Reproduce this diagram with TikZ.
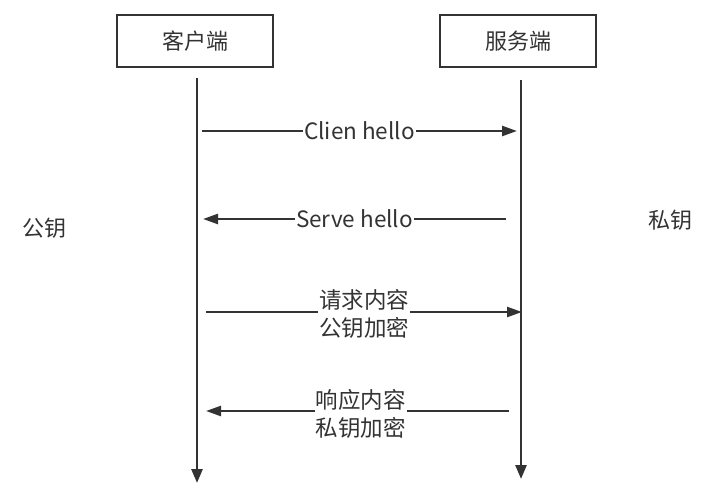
\documentclass[tikz,border=0pt]{standalone}
\usepackage{fontspec}
\setmainfont{Noto Sans CJK SC}
\usetikzlibrary{arrows.meta}
\definecolor{ink}{HTML}{333333}
\tikzset{
  party/.style={draw=ink, line width=2.2pt, minimum width=156pt, minimum height=52pt,
    inner sep=0pt, font=\fontsize{22}{26}\selectfont, text=ink},
  lifeline/.style={draw=ink, line width=2.6pt, -{Triangle[length=14pt,width=11pt]}},
  msg/.style={draw=ink, line width=2.4pt, -{Triangle[length=15pt,width=10pt]}},
  lbl/.style={fill=white, inner sep=1pt, align=center, text=ink,
    font=\fontsize{22.5}{28}\selectfont},
  side/.style={text=ink, font=\fontsize{22}{26}\selectfont}
}
\begin{document}
\begin{tikzpicture}[x=1pt,y=-1pt]
  \useasboundingbox (0,0) rectangle (721,490);
  % participants
  \node[party] (client) at (195,41) {客户端};
  \node[party] (server) at (518,41) {服务端};
  % lifelines
  \coordinate (cTop) at (197,78);
  \coordinate (cEnd) at (197,483);
  \coordinate (sTop) at (521,80);
  \coordinate (sEnd) at (521,479);
  \draw[lifeline] (cTop) -- (cEnd);
  \draw[lifeline] (sTop) -- (sEnd);
  % message endpoints
  \coordinate (m1a) at (202,131); \coordinate (m1b) at (517,131);
  \coordinate (m2a) at (506,219); \coordinate (m2b) at (203,219);
  \coordinate (m3a) at (206,312); \coordinate (m3b) at (522,312);
  \coordinate (m4a) at (509,411); \coordinate (m4b) at (206,411);
  % messages
  \draw[msg] (m1a) -- node[lbl] (l1) {Clien hello} (m1b);
  \draw[msg] (m2a) -- node[lbl] (l2) {Serve hello} (m2b);
  \draw[msg] (m3a) -- node[lbl, yshift=-2pt] (l3) {请求内容\\公钥加密} (m3b);
  \draw[msg] (m4a) -- node[lbl, yshift=-3pt, xshift=3pt] (l4) {响应内容\\私钥加密} (m4b);
  % key labels
  \node[side] (pub) at (45,228) {公钥};
  \node[side] (priv) at (670,220) {私钥};
\end{tikzpicture}
\end{document}
